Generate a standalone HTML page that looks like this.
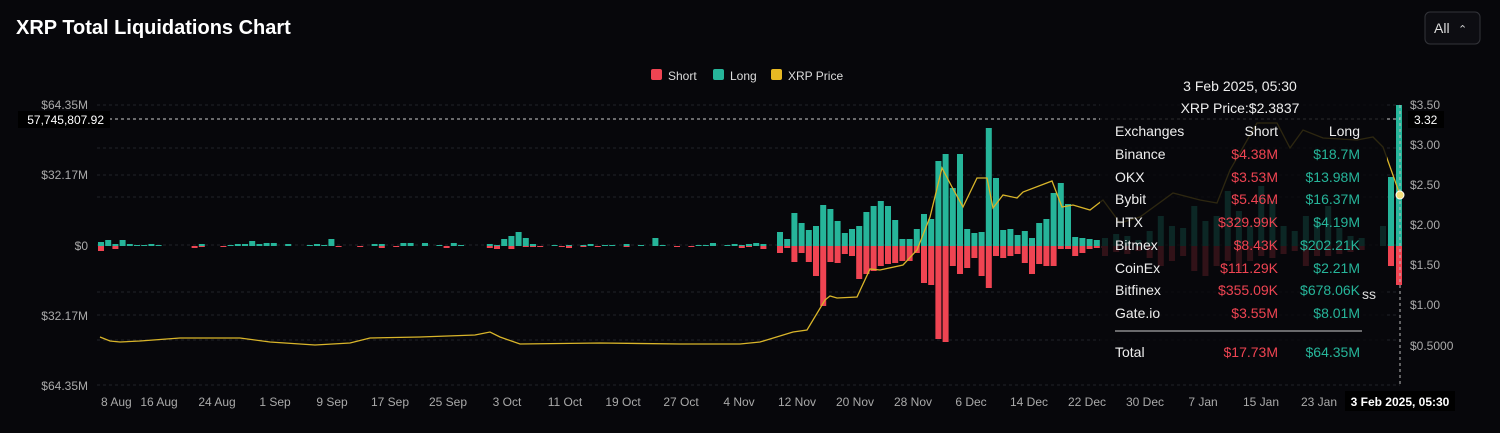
<!DOCTYPE html>
<html><head><meta charset="utf-8"><style>
html,body{margin:0;padding:0;background:#07070b;width:1500px;height:433px;overflow:hidden;font-family:"Liberation Sans",sans-serif;}
</style></head><body>
<svg id="s" width="1500" height="433" xmlns="http://www.w3.org/2000/svg" font-family="Liberation Sans, sans-serif">
<rect width="1500" height="433" fill="#07070b"/>
<text x="16" y="34" fill="#fff" font-size="20" font-weight="bold">XRP Total Liquidations Chart</text>
<rect x="1425" y="12" width="55" height="32" rx="5" fill="#0d0d12" stroke="#33343a"/>
<text x="1434" y="33" fill="#ddd" font-size="14">All</text>
<text x="1458" y="33" fill="#ccc" font-size="11">⌃</text>
<rect x="651" y="69" width="11" height="11" rx="2" fill="#ef4452"/><text x="668" y="80" fill="#ddd" font-size="12">Short</text>
<rect x="713" y="69" width="11" height="11" rx="2" fill="#26b59a"/><text x="730" y="80" fill="#ddd" font-size="12">Long</text>
<rect x="771" y="69" width="11" height="11" rx="2" fill="#e8b923"/><text x="788" y="80" fill="#ddd" font-size="12">XRP Price</text>
<g id="grid" stroke="#22232a" stroke-dasharray="3,3" stroke-width="1"></g>
<g font-size="12" fill="#aaa" text-anchor="end">
<text x="88" y="109">$64.35M</text><text x="88" y="179">$32.17M</text><text x="88" y="250">$0</text><text x="88" y="320">$32.17M</text><text x="88" y="390">$64.35M</text>
</g>
<g font-size="12" fill="#aaa">
<text x="1410" y="109">$3.50</text><text x="1410" y="149">$3.00</text><text x="1410" y="189">$2.50</text><text x="1410" y="229">$2.00</text><text x="1410" y="269">$1.50</text><text x="1410" y="309">$1.00</text><text x="1410" y="350">$0.5000</text>
</g>
<g id="bars"></g>
<polyline id="price" fill="none" stroke="#d9b52a" stroke-width="1.3"/>
<line x1="97" y1="119" x2="1400" y2="119" stroke="#ccc" stroke-dasharray="3,3"/>
<line x1="1400" y1="105" x2="1400" y2="386" stroke="#bbb" stroke-dasharray="3,3"/>
<rect x="18" y="111" width="92" height="17" fill="#000"/>
<text x="104" y="124" fill="#fff" font-size="12" text-anchor="end">57,745,807.92</text>
<rect x="1408" y="111" width="36" height="17" fill="#000"/>
<text x="1414" y="124" fill="#fff" font-size="12">3.32</text>
<rect x="1100" y="62" width="287" height="322" fill="#07070b" opacity="0.82"/>
<g font-size="14" fill="#eee">
<text x="1240" y="91" text-anchor="middle">3 Feb 2025, 05:30</text>
<text x="1240" y="113" text-anchor="middle">XRP Price:$2.3837</text>
<text x="1115" y="136">Exchanges</text><text x="1278" y="136" text-anchor="end">Short</text><text x="1360" y="136" text-anchor="end">Long</text>
<text x="1115" y="159">Binance</text><text x="1115" y="182">OKX</text><text x="1115" y="204">Bybit</text><text x="1115" y="227">HTX</text><text x="1115" y="250">Bitmex</text><text x="1115" y="273">CoinEx</text><text x="1115" y="295">Bitfinex</text><text x="1115" y="318">Gate.io</text><text x="1115" y="357">Total</text>
</g>
<g font-size="14" fill="#ef4452" text-anchor="end">
<text x="1278" y="159">$4.38M</text><text x="1278" y="182">$3.53M</text><text x="1278" y="204">$5.46M</text><text x="1278" y="227">$329.99K</text><text x="1278" y="250">$8.43K</text><text x="1278" y="273">$111.29K</text><text x="1278" y="295">$355.09K</text><text x="1278" y="318">$3.55M</text><text x="1278" y="357">$17.73M</text>
</g>
<g font-size="14" fill="#26b59a" text-anchor="end">
<text x="1360" y="159">$18.7M</text><text x="1360" y="182">$13.98M</text><text x="1360" y="204">$16.37M</text><text x="1360" y="227">$4.19M</text><text x="1360" y="250">$202.21K</text><text x="1360" y="273">$2.21M</text><text x="1360" y="295">$678.06K</text><text x="1360" y="318">$8.01M</text><text x="1360" y="357">$64.35M</text>
</g>
<line x1="1115" y1="331" x2="1362" y2="331" stroke="#ccc"/>
<text x="1362" y="299" fill="#ddd" font-size="14">ss</text>
<circle cx="1400" cy="195" r="4" fill="#f5e07a" stroke="#fff"/>
<g font-size="12" fill="#aaa" text-anchor="middle">
<text x="101" y="406" text-anchor="start">8 Aug</text><text x="159" y="406">16 Aug</text><text x="217" y="406">24 Aug</text><text x="275" y="406">1 Sep</text><text x="332" y="406">9 Sep</text><text x="390" y="406">17 Sep</text><text x="448" y="406">25 Sep</text><text x="507" y="406">3 Oct</text><text x="565" y="406">11 Oct</text><text x="623" y="406">19 Oct</text><text x="681" y="406">27 Oct</text><text x="739" y="406">4 Nov</text><text x="797" y="406">12 Nov</text><text x="855" y="406">20 Nov</text><text x="913" y="406">28 Nov</text><text x="971" y="406">6 Dec</text><text x="1029" y="406">14 Dec</text><text x="1087" y="406">22 Dec</text><text x="1145" y="406">30 Dec</text><text x="1203" y="406">7 Jan</text><text x="1261" y="406">15 Jan</text><text x="1319" y="406">23 Jan</text>
</g>
<rect x="1345" y="391" width="110" height="20" fill="#000"/>
<text x="1400" y="406" fill="#fff" font-size="12" font-weight="bold" text-anchor="middle">3 Feb 2025, 05:30</text>
</svg>
<script>
var NS="http://www.w3.org/2000/svg";
function el(p,t,a){var e=document.createElementNS(NS,t);for(var k in a)e.setAttribute(k,a[k]);document.getElementById(p).appendChild(e);return e;}
[105,148,175,197,245,292,315,340,385].forEach(function(y){el("grid","line",{x1:97,y1:y,x2:1400,y2:y});});
var Z=246;
var early=[[4,5],[6,0],[2,3],[6,0],[2,0],[1,0],[1,0],[2,0],[1,0],[0,0],[0,0],[0,0],[0,0],[0,2],[2,1],[0,0],[0,0],[0,1],[1,0],[2,0],[2,0],[5,0],[2,0],[3,0],[3,0],[0,0],[2,0],[0,0],[0,0],[1,0],[2,0],[1,0],[7,0],[0,1],[0,0],[0,0],[0,1],[0,0],[2,0],[2,2],[0,0],[0,1],[3,0],[3,0],[0,0],[3,0],[0,0],[1,0],[0,2],[3,0],[1,0],[0,0],[0,0],[0,0],[2,2],[1,3],[7,0],[10,3],[14,0],[8,1],[2,1],[0,1],[0,0],[1,0],[0,1],[1,2],[0,0],[1,1],[2,0],[0,1],[1,0],[1,0],[0,0],[2,1],[0,0],[1,0],[0,0],[8,0],[1,0],[0,0],[0,1],[0,0],[0,1],[1,0],[1,0],[3,0],[0,0],[1,0],[2,0],[1,2],[2,1],[3,0],[2,3]];
var L=[14,7,33,23,16,20,41,37,25,13,17,20,34,40,45,40,26,7,7,17,32,27,85,92,58,92,17,13,14,118,68,16,17,11,15,8,23,27,53,63,42,9,8,7,6];
var S=[7,2,16,7,16,30,60,16,17,8,10,33,28,25,20,18,17,15,15,7,37,39,93,96,20,28,22,12,30,42,10,12,10,8,17,28,18,20,20,3,3,10,7,3,2,2];
var x0=101,dx=7.2;
for(var i=0;i<early.length;i++){var x=x0+i*dx;if(early[i][0])el("bars","rect",{x:x-3,y:Z-early[i][0],width:6,height:early[i][0],fill:"#26b59a"});if(early[i][1])el("bars","rect",{x:x-3,y:Z,width:6,height:early[i][1],fill:"#ef4452"});}
for(var i=0;i<L.length;i++){var x=780+i*dx;el("bars","rect",{x:x-3,y:Z-L[i],width:6,height:L[i],fill:"#26b59a"});}
for(var i=0;i<S.length;i++){var x=780+i*dx;el("bars","rect",{x:x-3,y:Z,width:6,height:S[i],fill:"#ef4452"});}
var J=[[8,10],[12,6],[10,8],[6,5],[15,12],[30,20],[20,15],[18,10],[40,25],[25,30],[30,20],[55,15],[35,25],[20,15],[60,10],[45,12],[20,8],[15,5],[30,20],[25,10],[40,10],[18,8],[10,6],[8,4]];
for(var i=0;i<J.length;i++){var x=1105+i*dx*1.55;el("bars","rect",{x:x-3,y:Z-J[i][0],width:6,height:J[i][0],fill:"#26b59a"});el("bars","rect",{x:x-3,y:Z,width:6,height:J[i][1],fill:"#ef4452"});}
[[1383,20,0],[1391,69,20],[1399,141,39]].forEach(function(b){el("bars","rect",{x:b[0]-3,y:Z-b[1],width:6,height:b[1],fill:"#26b59a"});if(b[2])el("bars","rect",{x:b[0]-3,y:Z,width:6,height:b[2],fill:"#ef4452"});});
var P=[[100,337],[110,341],[120,342],[140,341],[180,338],[240,338],[270,342],[315,345],[350,343],[370,338],[420,337],[475,335],[490,332],[500,337],[520,344],[600,343],[680,344],[740,344],[760,342],[793,332],[807,330],[825,300],[830,296],[837,298],[857,297],[870,269],[880,270],[903,265],[917,250],[930,217],[942,168],[952,187],[963,207],[977,178],[987,178],[993,208],[1003,195],[1017,198],[1023,192],[1052,181],[1062,207],[1073,205],[1090,210],[1103,200],[1120,223],[1140,217],[1173,193],[1200,200],[1217,203],[1230,170],[1257,123],[1277,123],[1290,148],[1303,130],[1323,138],[1357,140],[1373,137],[1383,147],[1400,195]];
document.getElementById("price").setAttribute("points",P.map(function(p){return p.join(",");}).join(" "));
</script>
</body></html>
